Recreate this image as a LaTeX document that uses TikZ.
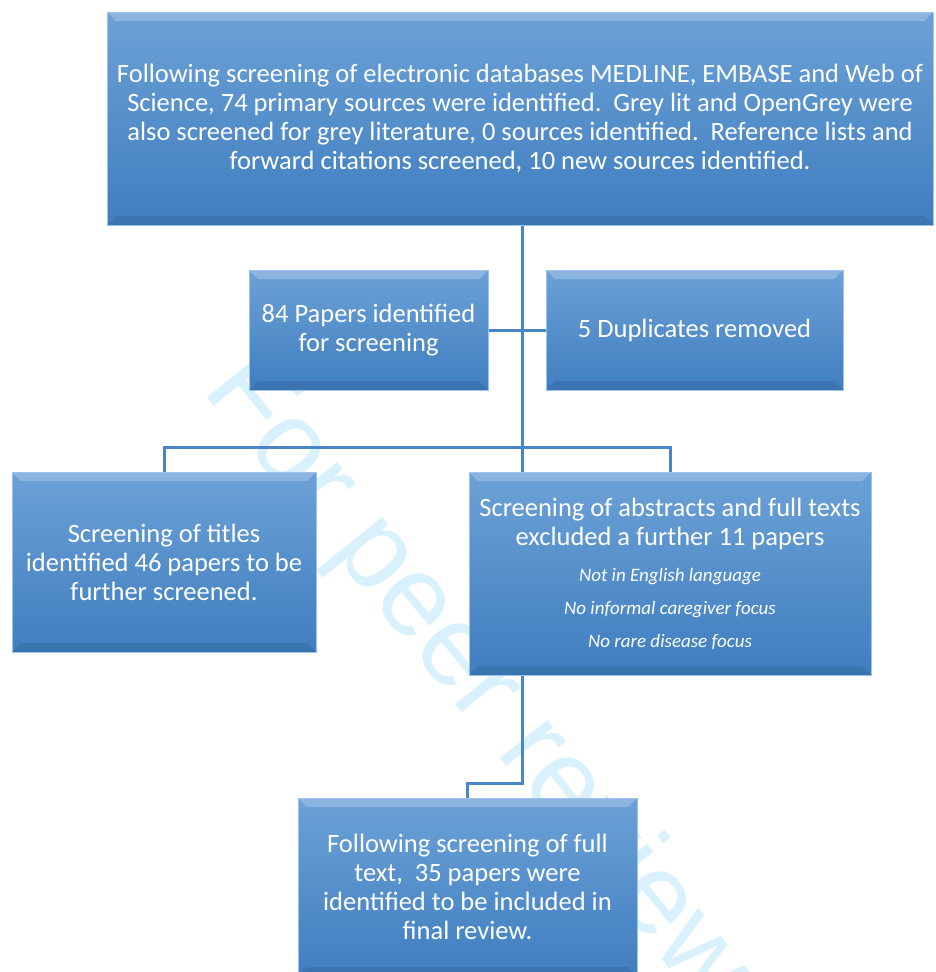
\documentclass[tikz,border=0pt]{standalone}
\usepackage{fontspec}
\setmainfont{Carlito}
\newfontfamily\markfont{Liberation Sans}
\definecolor{boxtop}{HTML}{6CA1D6}
\definecolor{boxbot}{HTML}{3F7EC0}
\definecolor{boxrim}{HTML}{9DC3EA}
\definecolor{linkblue}{HTML}{4A86C5}
\definecolor{markcyan}{HTML}{D8F1FC}

\begin{document}
\begin{tikzpicture}[x=1pt,y=-1pt,
    flowbox/.style={draw=boxrim, line width=1pt, top color=boxtop, bottom color=boxbot,
        text=white, align=center, inner sep=0pt, font=\fontsize{26.5}{29}\selectfont,
        path picture={
            \fill[white,opacity=0.22] (path picture bounding box.north west) -- (path picture bounding box.north east)
                -- ([shift={(-9pt,-9pt)}]path picture bounding box.north east) -- ([shift={(9pt,-9pt)}]path picture bounding box.north west) -- cycle;
            \fill[black,opacity=0.08] (path picture bounding box.south west) -- (path picture bounding box.south east)
                -- ([shift={(-9pt,9pt)}]path picture bounding box.south east) -- ([shift={(9pt,9pt)}]path picture bounding box.south west) -- cycle;
        }},
    link/.style={draw=linkblue, line width=3pt}]

    \useasboundingbox (0,0) rectangle (935,972);
    \clip (0,0) rectangle (935,972);

    % Watermark
    \node[text=markcyan, rotate=-51, font=\markfont\fontsize{115}{115}\selectfont] (mark) at (476,682) {For peer review};

    % Boxes
    \node[flowbox, minimum width=826pt, minimum height=213pt] (search) at (520,118.5)
        {Following screening of electronic databases MEDLINE, EMBASE and Web of\\
         Science, 74 primary sources were identified.\ \ Grey lit and OpenGrey were\\
         also screened for grey literature, 0 sources identified.\ \ Reference lists and\\
         forward citations screened, 10 new sources identified.};
    \node[flowbox, minimum width=239pt, minimum height=120pt] (papers) at (368.5,330)
        {84 Papers identified\\ for screening};
    \node[flowbox, minimum width=297pt, minimum height=120pt] (dupes) at (694.5,330)
        {5 Duplicates removed};
    \node[flowbox, minimum width=304pt, minimum height=180pt] (titles) at (164,562)
        {Screening of titles\\ identified 46 papers to be\\ further screened.};
    \node[flowbox, minimum width=402pt, minimum height=203pt] (abstracts) at (670,573.5)
        {Screening of abstracts and full texts\\ excluded a further 11 papers\\[7pt]
         \fontsize{19}{21}\selectfont\itshape Not in English language\\[4pt]
         \fontsize{19}{21}\selectfont\itshape No informal caregiver focus\\[4pt]
         \fontsize{19}{21}\selectfont\itshape No rare disease focus};
    \node[flowbox, minimum width=339pt, minimum height=178pt] (final) at (467.5,887)
        {Following screening of full\\ text,\ \ 35 papers were\\ identified to be included in\\ final review.};

    % Connectors
    \coordinate (bus) at (522,447);
    \coordinate (kink) at (522,783);
    \draw[link] (search.south -| bus) -- (bus |- abstracts.north);
    \draw[link] (papers.east) -- (dupes.west);
    \draw[link] (titles.north) -- (titles.north |- bus) -- (abstracts.north |- bus) -- (abstracts.north);
    \draw[link] (kink |- abstracts.south) -- (kink) -| (final.north);
\end{tikzpicture}
\end{document}
